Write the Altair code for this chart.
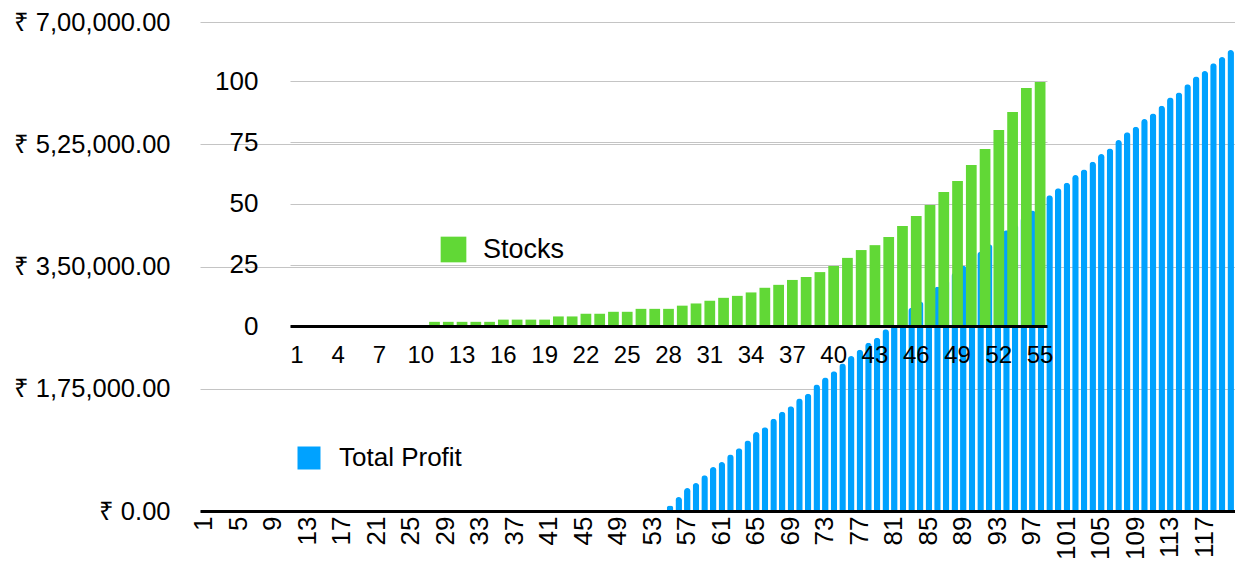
import altair as alt
import pandas as pd

FONT = "Liberation Sans"
BLUE = "#00A2FF"
GREEN = "#61D836"
GRID = "#c4c4c4"

# ---------------- main chart: Total Profit ----------------
profit_days = list(range(1, 121))
profit_first_day = 55
profit_values = [
    8000, 20000, 33000, 40000, 51000, 63000, 70000, 81000, 90000, 101000,
    113000, 120000, 132000, 142000, 150000, 161000, 168000, 181000, 191000, 200000,
    211000, 222000, 231000, 241000, 248000, 260000, 266000, 279000, 291000, 300000,
    311000, 321000, 331000, 341000, 351000, 361000, 371000, 382000, 391000, 402000,
    410000, 420000, 430000, 439000, 452000, 462000, 470000, 481000, 489000, 500000,
    511000, 519000, 531000, 542000, 550000, 561000, 569000, 580000, 592000, 599000,
    611000, 622000, 630000, 641000, 650000, 660000,
]
profit_y_ticks = [0, 175000, 350000, 525000, 700000]
profit_y_labels = ["₹ 0.00", "₹ 1,75,000.00", "₹ 3,50,000.00", "₹ 5,25,000.00", "₹ 7,00,000.00"]
profit_x_ticks = list(range(1, 121, 4))

# ---------------- inset chart: Stocks ----------------
stock_days = list(range(1, 56))
stock_values = [
    0, 0, 0, 0, 0, 0, 0, 0, 0, 0,
    1.7, 1.7, 1.7, 1.7, 1.7, 2.6, 2.6, 2.6, 2.6, 3.9,
    3.9, 5.0, 5.0, 5.8, 5.8, 7.0, 7.0, 7.0, 8.3, 9.2,
    10.3, 11.5, 12.3, 13.7, 15.6, 16.8, 18.8, 20.0, 22.0, 24.5,
    27.8, 31.0, 33.0, 36.3, 40.8, 44.9, 49.4, 54.7, 59.2, 65.7,
    72.2, 80.0, 87.3, 97.1, 99.6,
]
stock_y_ticks = [0, 25, 50, 75, 100]
stock_x_ticks = list(range(1, 56, 3))

profit_df = pd.DataFrame({
    "day": profit_days[profit_first_day - 1:],
    "value": profit_values,
    "series": "Total Profit",
})
stock_df = pd.DataFrame({"day": stock_days, "value": stock_values, "series": "Stocks"})

label_expr = "''"
for v, lab in zip(reversed(profit_y_ticks), reversed(profit_y_labels)):
    label_expr = f"datum.value == {v} ? '{lab}' : ({label_expr})"

W, H = 1035, 489

main = alt.Chart(profit_df).mark_bar(
    cornerRadiusTopLeft=3.4, cornerRadiusTopRight=3.4
).encode(
    x=alt.X("day:O", scale=alt.Scale(domain=profit_days, paddingInner=0.24),
            axis=alt.Axis(orient="bottom", values=profit_x_ticks, labelAngle=270,
                          labelFontSize=26, labelFont=FONT, labelColor="black",
                          labelPadding=5, ticks=False, domainColor="black",
                          domainWidth=3, grid=False, title=None,
                          labelOverlap=False, zindex=2)),
    y=alt.Y("value:Q", scale=alt.Scale(domain=[0, 700000], nice=False),
            axis=alt.Axis(orient="left", values=profit_y_ticks, labelExpr=label_expr,
                          labelFontSize=25.5, labelFont=FONT, labelColor="black",
                          labelPadding=30, ticks=False, domain=False, grid=True,
                          gridColor=GRID, gridWidth=1, title=None, zindex=0)),
    color=alt.Color("series:N", scale=alt.Scale(domain=["Total Profit"], range=[BLUE]),
                    legend=alt.Legend(orient="none", legendX=96, legendY=423, title=None,
                                      symbolType="square", symbolSize=529,
                                      symbolStrokeWidth=0, symbolOpacity=1,
                                      labelFontSize=26, labelFont=FONT,
                                      labelColor="black", labelOffset=17, padding=0)),
)

inset = alt.Chart(stock_df).mark_bar().encode(
    x=alt.X("day:O", scale=alt.Scale(domain=stock_days, range=[90, 847], paddingInner=0.22),
            axis=alt.Axis(orient="bottom", offset=-185, values=stock_x_ticks, labelAngle=0,
                          labelFontSize=24, labelFont=FONT, labelColor="black",
                          labelPadding=17, ticks=False, domainColor="black",
                          domainWidth=3, grid=False, title=None,
                          labelOverlap=False, zindex=2)),
    y=alt.Y("value:Q", scale=alt.Scale(domain=[0, 100], range=[304, 59], nice=False),
            axis=alt.Axis(orient="left", offset=-90, values=stock_y_ticks,
                          labelFontSize=26, labelFont=FONT, labelColor="black",
                          labelPadding=32, ticks=False, domain=False, grid=True,
                          gridColor=GRID, gridWidth=1, title=None, zindex=0)),
    color=alt.Color("series:N", scale=alt.Scale(domain=["Stocks"], range=[GREEN]),
                    legend=alt.Legend(orient="none", legendX=240, legendY=214, title=None,
                                      symbolType="square", symbolSize=660,
                                      symbolStrokeWidth=0, symbolOpacity=1,
                                      labelFontSize=27, labelFont=FONT,
                                      labelColor="black", labelOffset=16, padding=0)),
)

chart = alt.layer(main, inset).resolve_scale(
    x="independent", y="independent", color="independent"
).properties(
    width=W, height=H,
    autosize=alt.AutoSizeParams(type="none"),
    padding={"left": 192, "top": 14, "right": 0, "bottom": 51},
    background="white",
).configure_view(stroke=None)

chart.save("out.html", embed_options={"renderer": "svg", "actions": False})
